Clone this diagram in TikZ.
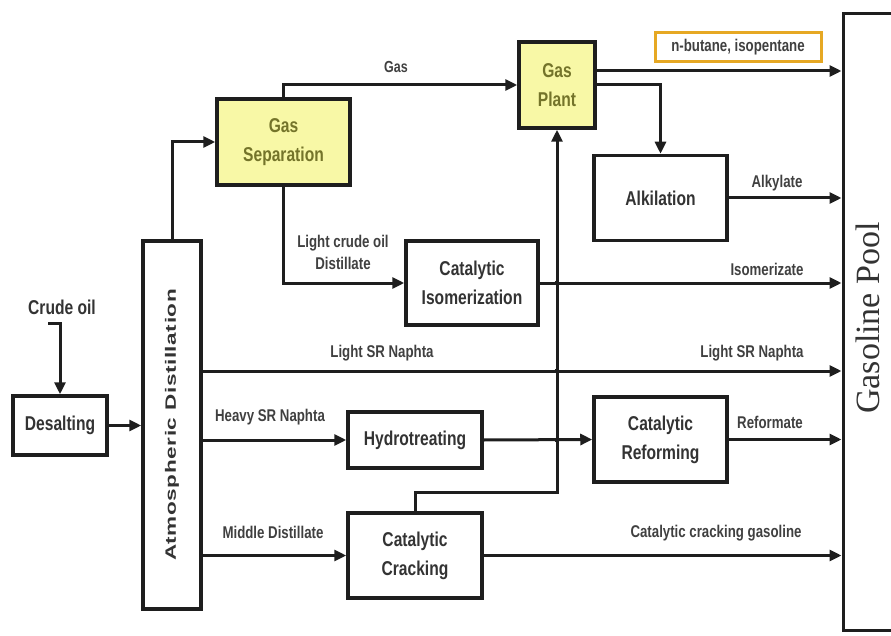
\documentclass[tikz,border=0pt]{standalone}
\usepackage{fontspec}
\usetikzlibrary{arrows.meta}
\newfontfamily\boxfont[FakeStretch=0.78]{Liberation Sans Bold}
\newfontfamily\atmfont[FakeStretch=1.5,LetterSpace=4]{Liberation Sans Bold}
\newfontfamily\poolfont{Liberation Serif}
\definecolor{txt}{HTML}{333333}
\definecolor{lbltxt}{HTML}{404040}
\definecolor{yfill}{HTML}{F8F8A6}
\definecolor{ytxt}{HTML}{74742A}
\definecolor{orangeb}{HTML}{E6A823}
\definecolor{ln}{HTML}{1E1E1E}
\begin{document}
\begin{tikzpicture}[x=1pt,y=-1pt,
  unitbox/.style={draw=ln,line width=3.5pt,fill=white,minimum width=#1,inner sep=0pt,
    align=center,text=txt,font=\boxfont\fontsize{20}{29}\selectfont},
  ybox/.style={unitbox=#1,fill=yfill,text=ytxt},
  arr/.style={draw=ln,line width=3pt,-{Triangle[length=12pt,width=11pt]}},
  conn/.style={draw=ln,line width=3pt},
  lbl/.style={text=lbltxt,inner sep=0pt,align=center,font=\boxfont\fontsize{17}{22}\selectfont},
  jdot/.style={circle,fill=ln,inner sep=0pt,minimum size=5pt}]
\path[use as bounding box] (0,0) rectangle (891,636);
\clip (0,0) rectangle (891,636);
% boxes
\node[ybox=133pt,minimum height=86pt] (gassep) at (283.5,142) {Gas\\Separation};
\node[ybox=76pt,minimum height=86pt] (gasplant) at (557,85) {Gas\\Plant};
\node[unitbox=133pt,minimum height=85pt] (alk) at (660.5,198) {Alkilation};
\node[unitbox=132pt,minimum height=84pt] (catiso) at (472,283) {Catalytic\\Isomerization};
\node[unitbox=58pt,minimum height=368pt] (atm) at (172,425) {};
\node[text=txt,rotate=90,inner sep=0pt,font=\atmfont\fontsize{15}{18}\selectfont] (atmtxt) at (atm.center) {Atmospheric Distillation};
\node[unitbox=94pt,minimum height=59pt] (desalt) at (60,425.5) {Desalting};
\node[unitbox=134pt,minimum height=56pt] (hydro) at (415,440) {Hydrotreating};
\node[unitbox=133pt,minimum height=85pt] (catref) at (660.5,439.5) {Catalytic\\Reforming};
\node[unitbox=134pt,minimum height=85pt] (catcrack) at (415,555.5) {Catalytic\\Cracking};
\node[draw=ln,line width=3pt,minimum width=80pt,minimum height=616pt,inner sep=0pt] (pool) at (883,322) {};
\node[text=txt,rotate=90,inner sep=0pt,font=\poolfont\fontsize{34}{40}\selectfont] (pooltxt) at (868,318) {Gasoline Pool};
\node[draw=orangeb,line width=3pt,minimum width=166pt,minimum height=29pt,inner sep=0pt,
  text=lbltxt,font=\boxfont\fontsize{17}{20}\selectfont] (nbut) at (738,47.5) {n-butane, isopentane};
% crude oil
\node[text=txt,inner sep=0pt,font=\boxfont\fontsize{20}{24}\selectfont] (crudelbl) at (62,307) {Crude oil};
\coordinate (crude) at (48,323);
\draw[arr] (crude) -- (desalt.north |- crude) -- (desalt.north);
\draw[arr] (desalt.east) -- (desalt.east -| atm.west);
% atm to gas separation
\draw[arr] (atm.north) |- (gassep.west);
% gas
\draw[arr] (gassep.north) |- (gasplant.west);
\node[lbl,font=\boxfont\fontsize{16}{20}\selectfont] (lgas) at (396,67) {Gas};
% gas plant outputs
\coordinate (gp1) at ([yshift=14pt]gasplant.east);
\draw[arr] (gp1) -- (gp1 -| pool.west);
\draw[arr] (gasplant.east) -| (alk.north);
\draw[arr] (alk.east) -- (alk.east -| pool.west);
\node[lbl] (lalk) at (777,183) {Alkylate};
% light crude oil distillate
\draw[arr] (gassep.south) |- (catiso.west);
\node[lbl] (llco) at (343,252) {Light crude oil\\Distillate};
% cat cracking gas to gas plant
\draw[arr] (catcrack.north) |- (gasplant.south |- 0,492) -- (gasplant.south);
% isomerizate
\draw[arr] (catiso.east) -- (catiso.east -| pool.west);
\node[lbl] (liso) at (767,269) {Isomerizate};
% light SR naphta
\coordinate (lsr) at (atm.east |- 0,371);
\draw[arr] (lsr) -- (lsr -| pool.west);
\node[lbl] (llsr1) at (382,353) {Light SR Naphta};
\node[lbl] (llsr2) at (752,353) {Light SR Naphta};
% heavy SR naphta
\draw[arr] (atm.east |- hydro.west) -- (hydro.west);
\node[lbl] (lhsr) at (270,417) {Heavy SR Naphta};
\draw[arr] (hydro.east) -- (catref.west);
\draw[arr] (catref.east) -- (catref.east -| pool.west);
\node[lbl] (lref) at (770,422) {Reformate};
% middle distillate
\draw[arr] (atm.east |- catcrack.west) -- (catcrack.west);
\node[lbl] (lmd) at (273,532) {Middle Distillate};
\draw[arr] (catcrack.east) -- (catcrack.east -| pool.west);
\node[lbl] (lccg) at (716,533) {Catalytic cracking gasoline};
% junction dots
\node[jdot] (j1) at (gasplant.south |- catiso.east) {};
\node[jdot] (j2) at (gasplant.south |- lsr) {};
\node[jdot] (j3) at (gasplant.south |- hydro.east) {};
\end{tikzpicture}
\end{document}
